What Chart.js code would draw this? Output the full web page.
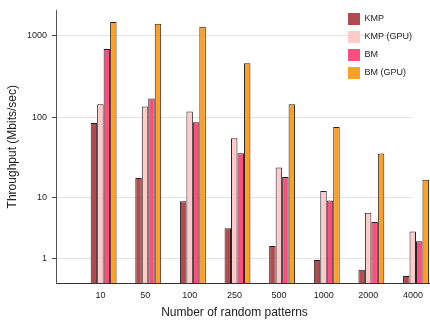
<!DOCTYPE html>
<html>
<head>
<meta charset="utf-8">
<script src="https://cdn.jsdelivr.net/npm/chart.js@4/dist/chart.umd.min.js"></script>
<style>
  html, body { margin: 0; padding: 0; background: #fff; }
  #wrap { width: 430px; height: 320px; }
</style>
</head>
<body>
<div id="wrap"><canvas id="c" width="430" height="320"></canvas></div>
<script>
// Throughput (Mbits/sec) per number of random patterns
const patternCounts = ['10', '50', '100', '250', '500', '1000', '2000', '4000'];
const kmp    = [85.9, 17.8, 8.8, 3.6, 1.8, 0.9, 0.45, 0.22];
const kmpGpu = [146, 137, 119, 56, 24.2, 12, 6.1, 3.2];
const bm     = [685, 171, 88, 36.5, 18.3, 9.0, 4.5, 2.2];
const bmGpu  = [1461, 1393, 1282, 460, 146, 76.8, 36.1, 16.9];
const yTickValues = [1, 10, 100, 1000];

// the value axis is log10(v + 1) so zero sits on the baseline
const toAxis = v => Math.log10(v + 1);
const fromAxis = a => Math.pow(10, a) - 1;

const FONT = '"Liberation Sans", Arial, Helvetica, sans-serif';
const TEXT = '#222';

const series = [
  { label: 'KMP',       values: kmp,    color: '#b34a4e' },
  { label: 'KMP (GPU)', values: kmpGpu, color: '#ffcaca' },
  { label: 'BM',        values: bm,     color: '#ff4d7e' },
  { label: 'BM (GPU)',  values: bmGpu,  color: '#ffa024' }
];

const tweaks = {
  id: 'tweaks',
  afterLayout(chart) {
    const lg = chart.legend;
    if (lg) {
      lg.left = 342; lg.right = 430;
      lg.top = 7; lg.bottom = 300;
    }
  },
  beforeDatasetsDraw(chart) {
    chart.ctx.save();
    chart.ctx.translate(3, 0);
  },
  afterDatasetsDraw(chart) {
    chart.ctx.restore();
  },
  afterDraw(chart) {
    // x axis line runs on to the edge of the canvas
    const { ctx, chartArea } = chart;
    ctx.save();
    ctx.strokeStyle = '#333';
    ctx.lineWidth = 1;
    ctx.beginPath();
    ctx.moveTo(chartArea.right, chartArea.bottom + 0.5);
    ctx.lineTo(chart.width, chartArea.bottom + 0.5);
    ctx.stroke();
    ctx.restore();
  }
};

new Chart(document.getElementById('c'), {
  type: 'bar',
  data: {
    labels: [''].concat(patternCounts),
    datasets: series.map(s => ({
      label: s.label,
      data: [null].concat(s.values.map(toAxis)),
      backgroundColor: s.color,
      borderColor: '#222',
      borderWidth: 1,
      barPercentage: 1,
      categoryPercentage: 0.58,
      clip: false
    }))
  },
  options: {
    responsive: false,
    animation: false,
    devicePixelRatio: 1,
    layout: { padding: { top: 8, right: 16, left: 0, bottom: 0 } },
    plugins: {
      tooltip: { enabled: false },
      legend: {
        position: 'chartArea',
        align: 'start',
        labels: {
          boxWidth: 12,
          boxHeight: 12,
          padding: 6,
          color: TEXT,
          font: { family: FONT, size: 9 },
          generateLabels(chart) {
            const items = Chart.defaults.plugins.legend.labels.generateLabels(chart);
            items.forEach(it => { it.lineWidth = 0; it.strokeStyle = 'rgba(0,0,0,0)'; });
            return items;
          }
        }
      }
    },
    scales: {
      x: {
        type: 'category',
        offset: false,
        grid: { display: false, drawTicks: false },
        border: { display: true, color: '#333', width: 1 },
        ticks: { color: TEXT, font: { family: FONT, size: 9 }, padding: 7, maxRotation: 0, autoSkip: false },
        title: {
          display: true,
          text: 'Number of random patterns',
          color: TEXT,
          font: { family: FONT, size: 12 },
          padding: { top: 0, bottom: 0 }
        },
        afterFit(scale) { scale.height = 37; }
      },
      y: {
        type: 'linear',
        min: 0,
        max: 3.305,
        grid: { color: '#e4e4e4', lineWidth: 1, drawTicks: true, tickLength: 4, tickColor: '#444' },
        border: { display: true, color: '#555', width: 1 },
        afterBuildTicks(scale) {
          scale.ticks = yTickValues.map(v => ({ value: toAxis(v) }));
        },
        ticks: {
          color: TEXT,
          font: { family: FONT, size: 9 },
          padding: 5,
          callback: value => String(Math.round(fromAxis(value)))
        },
        title: {
          display: true,
          text: 'Throughput (Mbits/sec)',
          color: TEXT,
          font: { family: FONT, size: 12 },
          padding: { top: 5.5, bottom: 0 }
        },
        afterFit(scale) { scale.width = 56; }
      }
    }
  },
  plugins: [tweaks]
});
</script>
</body>
</html>
